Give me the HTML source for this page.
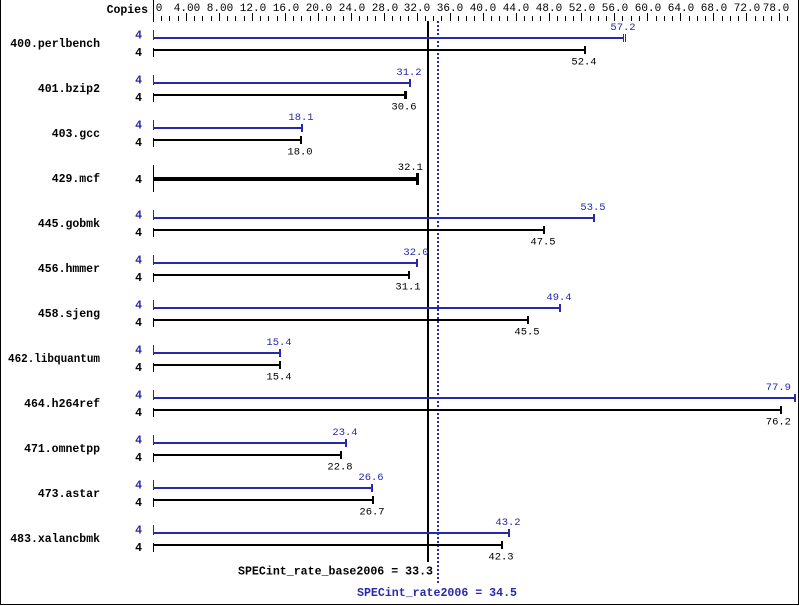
<!DOCTYPE html>
<html><head><meta charset="utf-8"><style>
html,body{margin:0;padding:0;background:#fff;}
svg{display:block;}
.n{font-family:"Liberation Mono",monospace;font-weight:bold;font-size:11.5px;fill:#000;}
.c{font-family:"Liberation Mono",monospace;font-weight:bold;font-size:11.5px;}
.t{font-family:"Liberation Mono",monospace;font-size:11px;fill:#000;}
.v{font-family:"Liberation Mono",monospace;font-size:10.5px;}
.b{fill:#2828aa;}
.k{fill:#000;}
</style></head><body>
<svg width="799" height="606" viewBox="0 0 799 606" xmlns="http://www.w3.org/2000/svg">
<rect x="0" y="0" width="799" height="606" fill="#fff"/>
<!-- border -->
<rect x="0" y="0" width="1" height="605" fill="#000"/>
<rect x="798" y="0" width="1" height="605" fill="#000"/>
<rect x="0" y="604" width="799" height="1" fill="#000"/>

<!-- axis header -->
<text class="n" x="148" y="13" text-anchor="end">Copies</text>
<rect x="153" y="0" width="1" height="22" fill="#000"/>
<g stroke="#000" stroke-width="1">
<path d="M161.5 16V21M169.5 16V21M178.5 16V21M194.5 16V21M202.5 16V21M211.5 16V21M227.5 16V21M235.5 16V21M244.5 16V21M260.5 16V21M268.5 16V21M277.5 16V21M293.5 16V21M301.5 16V21M310.5 16V21M326.5 16V21M334.5 16V21M343.5 16V21M359.5 16V21M367.5 16V21M375.5 16V21M392.5 16V21M400.5 16V21M408.5 16V21M425.5 16V21M433.5 16V21M441.5 16V21M458.5 16V21M466.5 16V21M474.5 16V21M491.5 16V21M499.5 16V21M507.5 16V21M524.5 16V21M532.5 16V21M540.5 16V21M557.5 16V21M565.5 16V21M573.5 16V21M590.5 16V21M598.5 16V21M606.5 16V21M622.5 16V21M631.5 16V21M639.5 16V21M656.5 16V21M664.5 16V21M672.5 16V21M689.5 16V21M697.5 16V21M705.5 16V21M722.5 16V21M730.5 16V21M738.5 16V21M755.5 16V21M763.5 16V21M771.5 16V21M787.5 16V21"/>
<path d="M186.5 13V21M219.5 13V21M252.5 13V21M285.5 13V21M318.5 13V21M351.5 13V21M384.5 13V21M417.5 13V21M450.5 13V21M483.5 13V21M516.5 13V21M549.5 13V21M581.5 13V21M614.5 13V21M647.5 13V21M680.5 13V21M713.5 13V21M746.5 13V21M779.5 13V21"/>
</g>
<g class="t" text-anchor="middle">
<text x="159" y="11">0</text>
<text x="187" y="11">4.00</text>
<text x="220" y="11">8.00</text>
<text x="253" y="11">12.0</text>
<text x="286" y="11">16.0</text>
<text x="319" y="11">20.0</text>
<text x="352" y="11">24.0</text>
<text x="385" y="11">28.0</text>
<text x="417" y="11">32.0</text>
<text x="450" y="11">36.0</text>
<text x="483" y="11">40.0</text>
<text x="516" y="11">44.0</text>
<text x="549" y="11">48.0</text>
<text x="582" y="11">52.0</text>
<text x="615" y="11">56.0</text>
<text x="648" y="11">60.0</text>
<text x="681" y="11">64.0</text>
<text x="714" y="11">68.0</text>
<text x="747" y="11">72.0</text>
<text x="776" y="11">78.0</text>
</g>

<!-- reference lines -->
<rect x="427" y="21" width="2" height="541" fill="#000"/>
<line x1="438" y1="21" x2="438" y2="583" stroke="#2828aa" stroke-width="2" stroke-dasharray="2 2"/>

<!-- 400.perlbench (by=37) -->
<text class="n" x="100" y="47" text-anchor="end">400.perlbench</text>
<text class="c b" x="142" y="38.5" text-anchor="end">4</text>
<text class="c k" x="142" y="56" text-anchor="end">4</text>
<rect class="b" x="153" y="30" width="1" height="10"/>
<rect class="k" x="153" y="48" width="1" height="9"/>
<rect class="b" x="153" y="37" width="471" height="2"/>
<rect class="b" x="623" y="34" width="1" height="8"/><rect class="b" x="625" y="34" width="1" height="8"/>
<text class="v b" x="623" y="30" text-anchor="middle">57.2</text>
<rect class="k" x="153" y="49" width="432" height="2"/>
<rect class="k" x="584" y="46" width="2" height="8"/>
<text class="v k" x="584" y="64.5" text-anchor="middle">52.4</text>

<!-- 401.bzip2 (by=82) -->
<text class="n" x="100" y="92" text-anchor="end">401.bzip2</text>
<text class="c b" x="142" y="83.5" text-anchor="end">4</text>
<text class="c k" x="142" y="101" text-anchor="end">4</text>
<rect class="b" x="153" y="75" width="1" height="10"/>
<rect class="k" x="153" y="93" width="1" height="9"/>
<rect class="b" x="153" y="82" width="257" height="2"/>
<rect class="b" x="409" y="79" width="2" height="8"/>
<text class="v b" x="409" y="75" text-anchor="middle">31.2</text>
<rect class="k" x="153" y="94" width="252" height="2"/>
<rect class="k" x="404" y="91" width="3" height="8"/>
<text class="v k" x="404" y="109.5" text-anchor="middle">30.6</text>

<!-- 403.gcc (by=127) -->
<text class="n" x="100" y="137" text-anchor="end">403.gcc</text>
<text class="c b" x="142" y="128.5" text-anchor="end">4</text>
<text class="c k" x="142" y="146" text-anchor="end">4</text>
<rect class="b" x="153" y="120" width="1" height="10"/>
<rect class="k" x="153" y="138" width="1" height="9"/>
<rect class="b" x="153" y="127" width="149" height="2"/>
<rect class="b" x="301" y="124" width="2" height="8"/>
<text class="v b" x="301" y="120" text-anchor="middle">18.1</text>
<rect class="k" x="153" y="139" width="148" height="2"/>
<rect class="k" x="300" y="136" width="2" height="8"/>
<text class="v k" x="300" y="154.5" text-anchor="middle">18.0</text>

<!-- 429.mcf -->
<text class="n" x="100" y="182" text-anchor="end">429.mcf</text>
<text class="c k" x="142" y="183" text-anchor="end">4</text>
<rect class="k" x="153" y="165" width="1" height="27"/>
<rect class="k" x="153" y="177" width="265" height="4"/>
<rect class="k" x="416" y="173" width="3" height="12"/>
<text class="v k" x="423" y="170" text-anchor="end">32.1</text>

<!-- 445.gobmk (by=217) -->
<text class="n" x="100" y="227" text-anchor="end">445.gobmk</text>
<text class="c b" x="142" y="218.5" text-anchor="end">4</text>
<text class="c k" x="142" y="236" text-anchor="end">4</text>
<rect class="b" x="153" y="210" width="1" height="10"/>
<rect class="k" x="153" y="228" width="1" height="9"/>
<rect class="b" x="153" y="217" width="441" height="2"/>
<rect class="b" x="593" y="214" width="2" height="8"/>
<text class="v b" x="593" y="210" text-anchor="middle">53.5</text>
<rect class="k" x="153" y="229" width="391" height="2"/>
<rect class="k" x="543" y="226" width="2" height="8"/>
<text class="v k" x="543" y="244.5" text-anchor="middle">47.5</text>

<!-- 456.hmmer (by=262) -->
<text class="n" x="100" y="272" text-anchor="end">456.hmmer</text>
<text class="c b" x="142" y="263.5" text-anchor="end">4</text>
<text class="c k" x="142" y="281" text-anchor="end">4</text>
<rect class="b" x="153" y="255" width="1" height="10"/>
<rect class="k" x="153" y="273" width="1" height="9"/>
<rect class="b" x="153" y="262" width="264" height="2"/>
<rect class="b" x="416" y="259" width="2" height="8"/>
<text class="v b" x="416" y="255" text-anchor="middle">32.0</text>
<rect class="k" x="153" y="274" width="256" height="2"/>
<rect class="k" x="408" y="271" width="2" height="8"/>
<text class="v k" x="408" y="289.5" text-anchor="middle">31.1</text>

<!-- 458.sjeng (by=307) -->
<text class="n" x="100" y="317" text-anchor="end">458.sjeng</text>
<text class="c b" x="142" y="308.5" text-anchor="end">4</text>
<text class="c k" x="142" y="326" text-anchor="end">4</text>
<rect class="b" x="153" y="300" width="1" height="10"/>
<rect class="k" x="153" y="318" width="1" height="9"/>
<rect class="b" x="153" y="307" width="407" height="2"/>
<rect class="b" x="559" y="304" width="2" height="8"/>
<text class="v b" x="559" y="300" text-anchor="middle">49.4</text>
<rect class="k" x="153" y="319" width="375" height="2"/>
<rect class="k" x="527" y="316" width="2" height="8"/>
<text class="v k" x="527" y="334.5" text-anchor="middle">45.5</text>

<!-- 462.libquantum (by=352) -->
<text class="n" x="8" y="362" textLength="92" lengthAdjust="spacingAndGlyphs">462.libquantum</text>
<text class="c b" x="142" y="353.5" text-anchor="end">4</text>
<text class="c k" x="142" y="371" text-anchor="end">4</text>
<rect class="b" x="153" y="345" width="1" height="10"/>
<rect class="k" x="153" y="363" width="1" height="9"/>
<rect class="b" x="153" y="352" width="127" height="2"/>
<rect class="b" x="279" y="349" width="2" height="8"/>
<text class="v b" x="279" y="345" text-anchor="middle">15.4</text>
<rect class="k" x="153" y="364" width="127" height="2"/>
<rect class="k" x="279" y="361" width="2" height="8"/>
<text class="v k" x="279" y="379.5" text-anchor="middle">15.4</text>

<!-- 464.h264ref (by=397) -->
<text class="n" x="100" y="407" text-anchor="end">464.h264ref</text>
<text class="c b" x="142" y="398.5" text-anchor="end">4</text>
<text class="c k" x="142" y="416" text-anchor="end">4</text>
<rect class="b" x="153" y="390" width="1" height="10"/>
<rect class="k" x="153" y="408" width="1" height="9"/>
<rect class="b" x="153" y="397" width="642" height="2"/>
<rect class="b" x="794" y="394" width="2" height="8"/>
<text class="v b" x="791" y="390" text-anchor="end">77.9</text>
<rect class="k" x="153" y="409" width="628" height="2"/>
<rect class="k" x="780" y="406" width="2" height="8"/>
<text class="v k" x="791" y="424.5" text-anchor="end">76.2</text>

<!-- 471.omnetpp (by=442) -->
<text class="n" x="100" y="452" text-anchor="end">471.omnetpp</text>
<text class="c b" x="142" y="443.5" text-anchor="end">4</text>
<text class="c k" x="142" y="461" text-anchor="end">4</text>
<rect class="b" x="153" y="435" width="1" height="10"/>
<rect class="k" x="153" y="453" width="1" height="9"/>
<rect class="b" x="153" y="442" width="193" height="2"/>
<rect class="b" x="345" y="439" width="2" height="8"/>
<text class="v b" x="345" y="435" text-anchor="middle">23.4</text>
<rect class="k" x="153" y="454" width="188" height="2"/>
<rect class="k" x="340" y="451" width="2" height="8"/>
<text class="v k" x="340" y="469.5" text-anchor="middle">22.8</text>

<!-- 473.astar (by=487) -->
<text class="n" x="100" y="497" text-anchor="end">473.astar</text>
<text class="c b" x="142" y="488.5" text-anchor="end">4</text>
<text class="c k" x="142" y="506" text-anchor="end">4</text>
<rect class="b" x="153" y="480" width="1" height="10"/>
<rect class="k" x="153" y="498" width="1" height="9"/>
<rect class="b" x="153" y="487" width="219" height="2"/>
<rect class="b" x="371" y="484" width="2" height="8"/>
<text class="v b" x="371" y="480" text-anchor="middle">26.6</text>
<rect class="k" x="153" y="499" width="220" height="2"/>
<rect class="k" x="372" y="496" width="2" height="8"/>
<text class="v k" x="372" y="514.5" text-anchor="middle">26.7</text>

<!-- 483.xalancbmk (by=532) -->
<text class="n" x="100" y="542" text-anchor="end">483.xalancbmk</text>
<text class="c b" x="142" y="533.5" text-anchor="end">4</text>
<text class="c k" x="142" y="551" text-anchor="end">4</text>
<rect class="b" x="153" y="525" width="1" height="10"/>
<rect class="k" x="153" y="543" width="1" height="9"/>
<rect class="b" x="153" y="532" width="356" height="2"/>
<rect class="b" x="508" y="529" width="2" height="8"/>
<text class="v b" x="508" y="525" text-anchor="middle">43.2</text>
<rect class="k" x="153" y="544" width="349" height="2"/>
<rect class="k" x="501" y="541" width="2" height="8"/>
<text class="v k" x="501" y="559.5" text-anchor="middle">42.3</text>

<!-- summary -->
<text class="c k" x="238" y="574.5" textLength="195" lengthAdjust="spacingAndGlyphs">SPECint_rate_base2006 = 33.3</text>
<text class="c b" x="357" y="596" textLength="160" lengthAdjust="spacingAndGlyphs">SPECint_rate2006 = 34.5</text>
</svg>
</body></html>
